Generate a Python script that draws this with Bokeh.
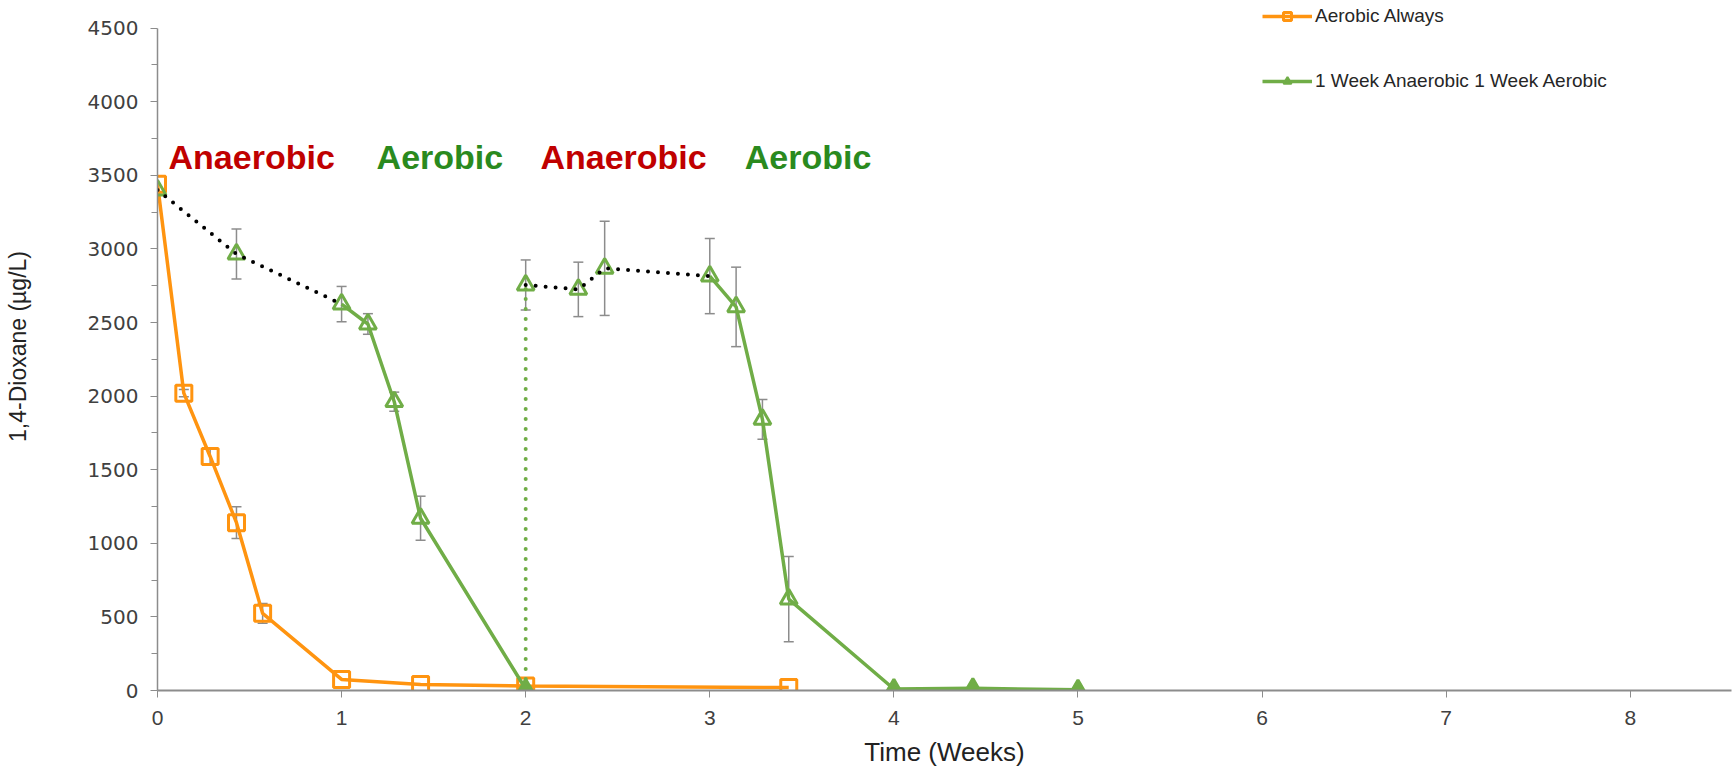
from bokeh.plotting import figure
from bokeh.models import (ColumnDataSource, Whisker, Legend, LegendItem, Range1d,
                          FixedTicker, Label, TeeHead)
from bokeh.embed import file_html
from bokeh.resources import INLINE

# ---- data ----
weeks_o = [0, 0.143, 0.286, 0.429, 0.571, 1.0, 1.429, 2.0, 3.429]
conc_o = [3440, 2020, 1590, 1140, 524, 75, 40, 30, 20]
err_o = [0, 25, 57, 108, 67, 0, 0, 0, 0]

weeks_g = [0, 0.429, 1.0, 1.143, 1.286, 1.429, 2.0, 2.0, 2.286, 2.429, 3.0, 3.143, 3.286, 3.429, 4.0, 4.429, 5.0]
conc_g = [3400, 2965, 2625, 2490, 1962, 1170, 10, 2755, 2725, 2868, 2815, 2606, 1842, 621, 10, 15, 5]
err_g = [0, 170, 120, 70, 65, 150, 0, 170, 185, 320, 255, 270, 135, 290, 0, 0, 0]

# segment index ranges (inclusive) by phase
anaerobic_segs = [(0, 2), (7, 10)]
aerobic_segs = [(2, 6), (10, 16)]
switch_seg = (6, 7)

phase_labels = ["Anaerobic", "Aerobic", "Anaerobic", "Aerobic"]
phase_x = [0.06, 1.19, 2.08, 3.19]
phase_y = 3624
x_ticks = [0, 1, 2, 3, 4, 5, 6, 7, 8]
y_ticks = [0, 500, 1000, 1500, 2000, 2500, 3000, 3500, 4000, 4500]

ORANGE = "#FF9410"
GREEN = "#70AD47"
RED = "#C00000"
DGREEN = "#2A8A1E"
GRAY = "#8C8C8C"

p = figure(width=1736, height=769, output_backend="svg", toolbar_location=None,
           x_range=Range1d(0, 8.55), y_range=Range1d(0, 4674),
           min_border_left=157, min_border_right=5, min_border_top=2, min_border_bottom=76)
p.outline_line_color = None
p.xgrid.visible = False
p.ygrid.visible = False
p.background_fill_color = "white"

# axes
for ax in (p.xaxis[0], p.yaxis[0]):
    ax.axis_line_color = GRAY
    ax.axis_line_width = 1.5
    ax.major_tick_line_color = GRAY
    ax.minor_tick_line_color = GRAY
    ax.major_tick_in = 0
    ax.major_tick_out = 7
    ax.minor_tick_in = 0
    ax.minor_tick_out = 6
    ax.major_label_text_color = "#404040"
    ax.axis_label_text_font = "Liberation Sans"
    ax.axis_label_text_font_style = "normal"
    ax.axis_label_text_color = "#222222"

p.xaxis.ticker = FixedTicker(ticks=x_ticks)
p.xaxis.minor_tick_line_color = None
p.xaxis.axis_line_width = 2
p.xaxis.axis_label = "Time (Weeks)"
p.xaxis.axis_label_text_font_size = "26px"
p.xaxis.major_label_text_font = "Liberation Sans"
p.xaxis.major_label_text_font_size = "21px"
p.xaxis.major_label_standoff = 13
p.xaxis.axis_label_standoff = 9

p.yaxis.ticker = FixedTicker(ticks=y_ticks, minor_ticks=[v + 250 for v in y_ticks[:-1]])
p.yaxis.bounds = (0, 4500)
p.yaxis.axis_label = "1,4-Dioxane (\u00b5g/L)"
p.yaxis.axis_label_text_font_size = "23px"
p.yaxis.major_label_text_font = "DejaVu Sans"
p.yaxis.major_label_text_font_size = "20px"
p.yaxis.major_label_standoff = 12
p.yaxis.axis_label_standoff = 54

# error bars
def whisker(xs, ys, es):
    xx = [x for x, e in zip(xs, es) if e > 0]
    yy = [y for y, e in zip(ys, es) if e > 0]
    ee = [e for e in es if e > 0]
    src = ColumnDataSource(dict(x=xx, upper=[y + e for y, e in zip(yy, ee)],
                                lower=[y - e for y, e in zip(yy, ee)]))
    w = Whisker(base="x", upper="upper", lower="lower", source=src,
                line_color=GRAY, line_width=1.5,
                upper_head=TeeHead(size=10, line_color=GRAY, line_width=1.5),
                lower_head=TeeHead(size=10, line_color=GRAY, line_width=1.5))
    p.add_layout(w)

whisker(weeks_o, conc_o, err_o)
whisker(weeks_g, conc_g, err_g)

# orange series
o_line = p.line(weeks_o, conc_o, line_color=ORANGE, line_width=3.5)
o_pts = p.scatter(weeks_o, conc_o, marker="square", size=16, line_color=ORANGE,
                  line_width=3, fill_alpha=0)

# green series segments
g_lines = []
for a, b in aerobic_segs:
    g_lines.append(p.line(weeks_g[a:b + 1], conc_g[a:b + 1], line_color=GREEN, line_width=3.5))
a, b = switch_seg
p.line(weeks_g[a:b + 1], conc_g[a:b + 1], line_color=GREEN, line_width=4,
       line_dash="0 10", line_cap="round")
g_pts = p.scatter(weeks_g, conc_g, marker="triangle", size=17, line_color=GREEN,
                  line_width=3, fill_alpha=0)
# near-zero points look like small filled triangles
low_x = [x for x, y in zip(weeks_g, conc_g) if y < 50]
low_y = [y for y in conc_g if y < 50]
g_low = p.scatter(low_x, low_y, marker="triangle", size=12, line_color=GREEN,
                  line_width=2, fill_color=GREEN)
for a, b in anaerobic_segs:
    p.line(weeks_g[a:b + 1], conc_g[a:b + 1], line_color="black", line_width=4,
           line_dash="0 10", line_cap="round")

legend = Legend(items=[LegendItem(label="Aerobic Always", renderers=[o_line, o_pts]),
                       LegendItem(label="1 Week Anaerobic 1 Week Aerobic",
                                  renderers=[g_lines[0], g_low])],
                location=(1105, 598), orientation="vertical",
                glyph_width=50, glyph_height=20, label_height=20, spacing=43,
                label_standoff=3, padding=0, margin=0,
                label_text_font="Liberation Sans", label_text_font_size="19px",
                label_text_color="#262626",
                background_fill_alpha=0, border_line_color=None)
p.add_layout(legend)

# phase annotations
for t, xv in zip(phase_labels, phase_x):
    col = RED if t == "Anaerobic" else DGREEN
    p.add_layout(Label(x=xv, y=phase_y, text=t, text_baseline="middle", text_align="left",
                       text_font="Liberation Sans", text_font_style="bold",
                       text_font_size="34px", text_color=col))

open("out.html", "w").write(file_html(p, INLINE))
